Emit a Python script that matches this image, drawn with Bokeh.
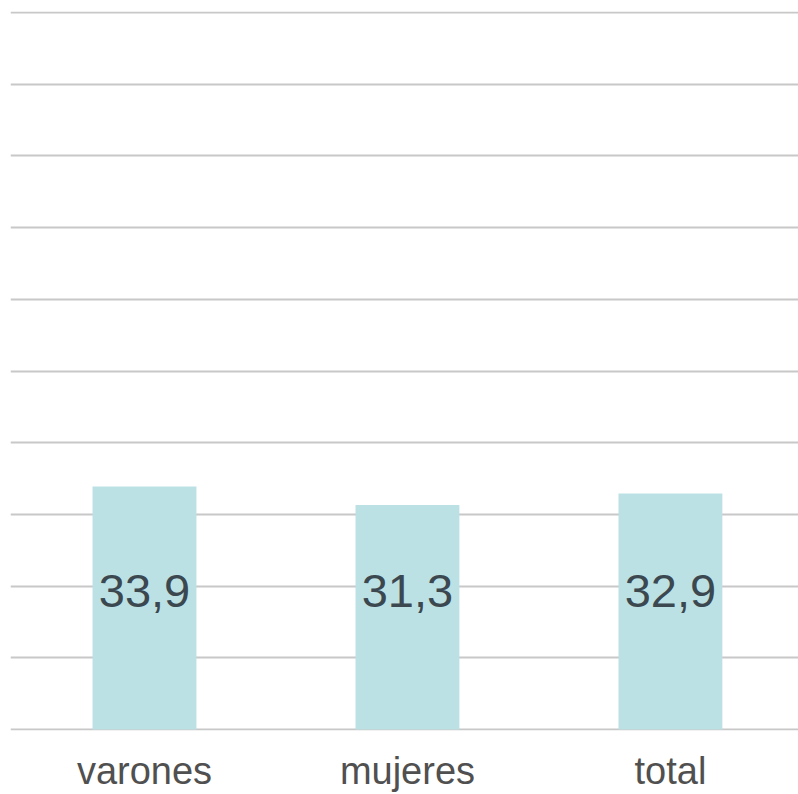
from bokeh.plotting import figure
from bokeh.models import ColumnDataSource, SingleIntervalTicker, FixedTicker, Range1d
from bokeh.core.properties import value
from bokeh.embed import file_html
from bokeh.resources import INLINE

categories = ["varones", "mujeres", "total"]
values = [33.9, 31.3, 32.9]
value_labels = ["33,9", "31,3", "32,9"]

LABEL_Y = 19.3

xpos = [i + 0.5 for i in range(len(categories))]

source = ColumnDataSource(data=dict(
    x=xpos,
    val=values,
    lab=value_labels,
    ly=[LABEL_Y] * len(categories),
))

p = figure(
    x_range=Range1d(-0.0095, 2.987),
    y_range=Range1d(-0.15, 100.15),
    width=798,
    height=794,
    output_backend="svg",
    toolbar_location=None,
    min_border_left=10,
    min_border_right=0,
    min_border_top=11,
    min_border_bottom=62,
)
p.outline_line_color = None
p.background_fill_color = "white"
p.border_fill_color = "white"

p.vbar(x="x", top="val", width=0.395, source=source,
       fill_color="#bbe1e5", line_color=None)

p.text(x="x", y="ly", text="lab", source=source,
       text_align="center", text_baseline="middle",
       text_font=value("Liberation Sans"), text_font_size="47px",
       text_color="#3b4850")

p.xgrid.grid_line_color = None
p.ygrid.grid_line_color = "#c8c8c8"
p.ygrid.grid_line_width = 2
p.yaxis.visible = False
p.yaxis.ticker = SingleIntervalTicker(interval=10)
p.ygrid.ticker = SingleIntervalTicker(interval=10)
p.ygrid.level = "underlay"

p.xaxis.ticker = FixedTicker(ticks=xpos)
p.xaxis.major_label_overrides = {x: c for x, c in zip(xpos, categories)}
p.xaxis.axis_line_color = None
p.xaxis.major_tick_line_color = None
p.xaxis.minor_tick_line_color = None
p.xaxis.major_label_text_font = "Liberation Sans"
p.xaxis.major_label_text_font_size = "38px"
p.xaxis.major_label_text_color = "#505050"
p.xaxis.major_label_standoff = 13

open("out.html", "w").write(file_html(p, INLINE))
